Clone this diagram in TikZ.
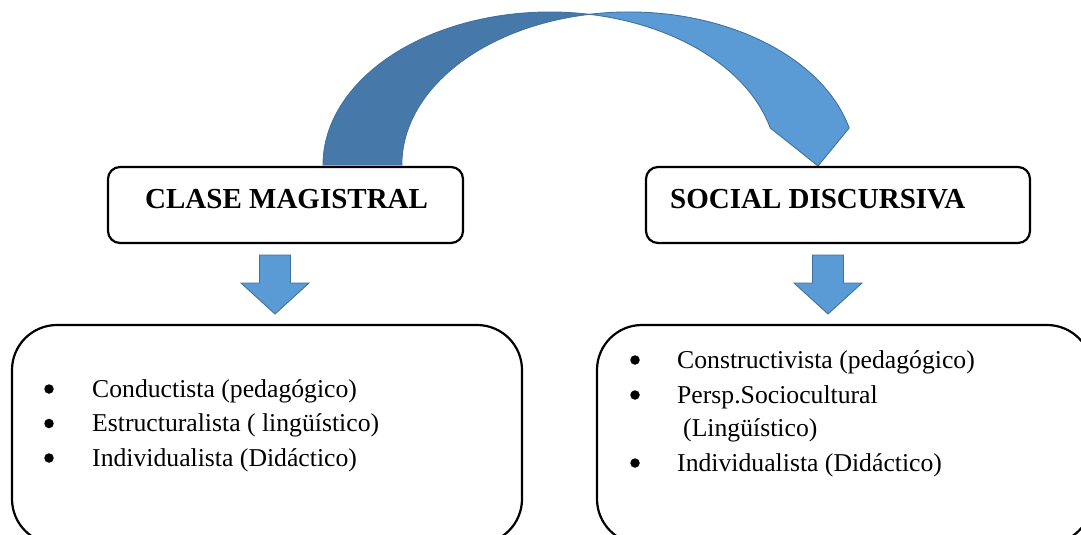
\documentclass[tikz,border=0pt]{standalone}
\usepackage{fontspec}
\setmainfont{Liberation Serif}
\definecolor{arcdark}{RGB}{70,121,170}
\definecolor{arclight}{RGB}{91,155,213}
\definecolor{arcline}{RGB}{65,113,156}
\tikzset{
  boxline/.style={draw=black, line width=2.2pt, fill=white},
  hdrtext/.style={inner sep=0pt, anchor=base west, font=\fontsize{29}{34}\selectfont\bfseries},
  itemtext/.style={inner sep=0pt, anchor=base west, font=\fontsize{25.7}{30}\selectfont},
  bul/.style={circle, fill=black, inner sep=0pt, minimum size=9.5pt},
  downarrow/.pic={
    \draw[arcline, fill=arclight, line width=0.9pt, line join=miter]
      (-15.5,0) -- (15.5,0) -- (15.5,-28) -- (34,-28) -- (0,-59)
      -- (-34,-28) -- (-15.5,-28) -- cycle;
  }
}
\begin{document}
\begin{tikzpicture}[x=1pt,y=1pt]
\useasboundingbox (0,0) rectangle (1081,-535);
\clip (0,0) rectangle (1081,-535);
\fill[white] (0,0) rectangle (1081,-535);

% big curved arrow: two equal ellipses, the second shifted right by 79
\filldraw[arcdark, draw=arcline, line width=0.9pt]
  (323,-165) arc[start angle=180, end angle=80, x radius=227, y radius=153]
  arc[start angle=100, end angle=180, x radius=227, y radius=153] -- cycle;
\filldraw[arclight, draw=arcline, line width=0.9pt, line join=miter]
  (589.5,-14.3) arc[start angle=100, end angle=14, x radius=227, y radius=153]
  -- (818,-166) -- (770.3,-128)
  arc[start angle=14, end angle=80, x radius=227, y radius=153] -- cycle;

% header boxes
\node[boxline, rounded corners=12pt, minimum width=355pt, minimum height=76pt, inner sep=0pt] (hl) at (285.5,-205) {};
\node[boxline, rounded corners=12pt, minimum width=384pt, minimum height=76pt, inner sep=0pt] (hr) at (838,-205) {};
\node[hdrtext] (hlt) at (145,-208) {CLASE MAGISTRAL};
\node[hdrtext] (hrt) at (670,-208) {SOCIAL DISCURSIVA};

% small down arrows
\pic at (275,-255) {downarrow};
\pic at (828,-255) {downarrow};

% list boxes
\node[boxline, rounded corners=45pt, minimum width=510pt, minimum height=219pt, inner sep=0pt] (bl) at (267,-434.5) {};
\node[boxline, rounded corners=45pt, minimum width=495pt, minimum height=219pt, inner sep=0pt] (br) at (844.5,-434.5) {};

% left list
\node[bul] (lb1) at (49,-389) {};
\node[bul] (lb2) at (49,-423.5) {};
\node[bul] (lb3) at (49,-458) {};
\node[itemtext] (li1) at (92,-397) {Conductista (pedagógico)};
\node[itemtext] (li2) at (92,-431.5) {Estructuralista ( lingüístico)};
\node[itemtext] (li3) at (92,-466) {Individualista (Didáctico)};

% right list
\node[bul] (rb1) at (635,-360) {};
\node[bul] (rb2) at (635,-395) {};
\node[bul] (rb4) at (635,-463) {};
\node[itemtext] (ri1) at (677,-368) {Constructivista (pedagógico)};
\node[itemtext] (ri2) at (677,-403) {Persp.Sociocultural};
\node[itemtext] (ri3) at (683,-436) {(Lingüístico)};
\node[itemtext] (ri4) at (677,-471) {Individualista (Didáctico)};
\end{tikzpicture}
\end{document}
